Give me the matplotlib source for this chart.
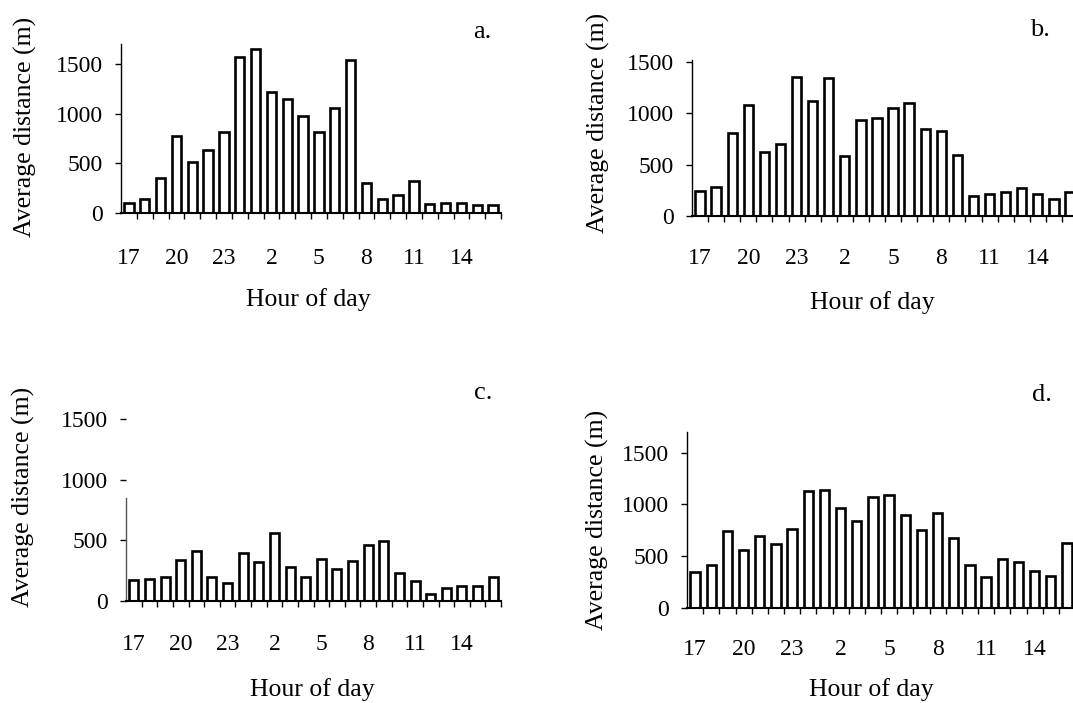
import numpy as np
import matplotlib
matplotlib.use("Agg")
import matplotlib.pyplot as plt

plt.rcParams['font.family'] = ['Liberation Serif', 'DejaVu Serif']

hours = [17, 18, 19, 20, 21, 22, 23, 0, 1, 2, 3, 4, 5, 6, 7, 8, 9, 10, 11, 12, 13, 14, 15, 16]
tick_hours = [17, 20, 23, 2, 5, 8, 11, 14]

dist_a = [100, 145, 350, 778, 510, 630, 815, 1567, 1648, 1215, 1144, 976, 815, 1060, 1544,
          305, 144, 185, 322, 94, 97, 97, 80, 80]
dist_b = [246, 279, 807, 1085, 619, 706, 1351, 1118, 1341, 586, 936, 956, 1053, 1102, 849,
          829, 599, 194, 217, 230, 272, 211, 162, 233]
dist_c = [172, 185, 199, 335, 412, 199, 152, 396, 318, 562, 277, 194, 346, 260, 332,
          465, 495, 232, 166, 61, 108, 122, 122, 194]
dist_d = [352, 419, 742, 565, 694, 619, 761, 1129, 1142, 968, 845, 1071, 1087, 897, 758,
          913, 677, 419, 297, 474, 442, 361, 313, 629]

W, H = 1073, 703
fig = plt.figure(figsize=(W / 100, H / 100), dpi=100)

# left px, right px, zero-line px, top px, ymax, letter, letter pos, xlabel pos, ylabel pos, tick pad
panels = [
    (dist_a, 121, 501, 213, 44, 1700, "a.", (482, 32), (308, 300), (25, 127), 25),
    (dist_b, 692, 1078, 216, 60, 1520, "b.", (1040, 30), (872, 303), (598, 123), 23),
    (dist_c, 126, 501, 601, 419, 1500, "c.", (483, 393), (312, 690), (23, 497), 24),
    (dist_d, 687, 1075, 608, 432, 1700, "d.", (1042, 395), (871, 690), (597, 520), 22),
]

x = np.arange(len(hours))
for vals, l, r, y0, y1, ymax, letter, lpos, xlpos, ylpos, pad in panels:
    ax = fig.add_axes([l / W, 1 - y0 / H, (r - l) / W, (y0 - y1) / H])
    ax.bar(x, vals, width=0.58, facecolor="white", edgecolor="black", linewidth=1.9)
    ax.set_xlim(-0.5, len(hours) - 0.5)
    ax.set_ylim(0, ymax)
    for s in ["top", "right"]:
        ax.spines[s].set_visible(False)
    ax.spines["left"].set_linewidth(1.0)
    ax.spines["bottom"].set_linewidth(1.5)
    if letter == "c.":
        ax.spines["left"].set_bounds(0, 850)
        ax.spines["left"].set_color("#555555")

    tick_pos = [hours.index(h) for h in tick_hours]
    ax.set_xticks(tick_pos)
    ax.set_xticklabels([str(h) for h in tick_hours])
    ax.set_xticks(np.arange(len(hours)) + 0.5, minor=True)
    ax.tick_params(axis="x", which="major", length=0, pad=pad, labelsize=17)
    ax.tick_params(axis="x", which="minor", length=4, width=1.0, direction="out")
    ax.set_yticks([0, 500, 1000, 1500])
    ax.tick_params(axis="y", length=4, width=1.0, pad=9, labelsize=17)

    wpx, hpx = r - l, y0 - y1
    ax.set_xlabel("Hour of day", fontsize=18.5)
    ax.xaxis.set_label_coords((xlpos[0] - l) / wpx, (y0 - xlpos[1]) / hpx)
    ax.xaxis.label.set_va("center")
    ax.set_ylabel("Average distance (m)", fontsize=18.5)
    ax.yaxis.set_label_coords((ylpos[0] - l) / wpx, (y0 - ylpos[1]) / hpx)
    ax.yaxis.label.set_va("center")

    fig.text(lpos[0] / W, 1 - lpos[1] / H, letter, fontsize=19, ha="center", va="center")

fig.savefig("out.png", dpi=100)
